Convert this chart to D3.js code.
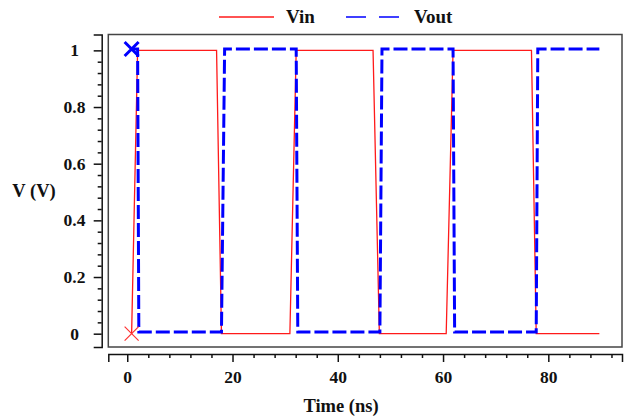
<!DOCTYPE html>
<html>
<head>
<meta charset="utf-8">
<script src="https://cdn.jsdelivr.net/npm/d3@7"></script>
<style>
  html, body { margin: 0; padding: 0; background: #fff; }
  svg { display: block; }
  text { font-family: "Liberation Serif", "Times New Roman", serif; font-weight: bold; fill: #111; }
</style>
</head>
<body>
<svg id="chart" width="629" height="419"></svg>
<script>
// Transient simulation of an inverter: input pulse train and output response
const vinTime  = [0.83, 1.97, 16.97, 17.9, 30.9, 32.1, 46.7, 47.9, 60.6, 61.9, 76.8, 77.7, 89.7];
const vinVolt  = [0, 1, 1, 0, 0, 1, 1, 0, 0, 1, 1, 0, 0];
const voutTime = [0.83, 1.97, 2.2, 17.9, 18.5, 32.1, 32.4, 48.0, 48.4, 61.9, 62.2, 77.7, 78.0, 89.7];
const voutVolt = [1.005, 1.005, 0.006, 0.006, 1.005, 1.005, 0.006, 0.006, 1.005, 1.005, 0.006, 0.006, 1.005, 1.005];

const seriesNames = ["Vin", "Vout"];
const xTickLabels = [0, 20, 40, 60, 80];
const yTickLabels = [0, 0.2, 0.4, 0.6, 0.8, 1];
const xLabel = "Time (ns)";
const yLabel = "V (V)";

const svg = d3.select("#chart");

// plot frame and scales
const frame = { left: 108.3, right: 622, top: 34.5, bottom: 347 };
const x = d3.scaleLinear().domain([-3.6, 94]).range([frame.left, frame.right]);
const y = d3.scaleLinear().domain([-0.047, 1.056]).range([frame.bottom, frame.top]);

svg.append("rect")
  .attr("x", frame.left).attr("y", frame.top)
  .attr("width", frame.right - frame.left).attr("height", frame.bottom - frame.top)
  .attr("fill", "none").attr("stroke", "#444").attr("stroke-width", 1.5);

// detached axes
const xAxisY = 354;
const yAxisX = 101.7;

const xMinor = d3.range(0, 95, 4).filter(v => v % 20 !== 0);
const gx = svg.append("g").attr("transform", `translate(0,${xAxisY})`);
gx.call(d3.axisBottom(x).tickValues(xMinor).tickSize(4).tickSizeOuter(8).tickFormat(""));
gx.append("g").call(d3.axisBottom(x).tickValues(xTickLabels).tickSize(8).tickSizeOuter(0).tickPadding(9));
gx.selectAll("path, line").attr("stroke", "#111").attr("stroke-width", 1.5);
gx.selectAll("text").style("font-size", "17.5px").attr("fill", "#111");

const yMinor = d3.range(0, 1.01, 0.04).filter(v => Math.abs(v * 5 - Math.round(v * 5)) > 1e-6);
const gy = svg.append("g").attr("transform", `translate(${yAxisX},0)`);
gy.call(d3.axisLeft(y).tickValues(yMinor).tickSize(4).tickSizeOuter(8).tickFormat(""));
gy.append("g").call(d3.axisLeft(y).tickValues(yTickLabels).tickSize(8).tickSizeOuter(0).tickFormat(d3.format("~g")));
gy.selectAll("path, line").attr("stroke", "#111").attr("stroke-width", 1.5);
gy.selectAll("text").style("font-size", "17.5px").attr("fill", "#111")
  .attr("text-anchor", "middle").attr("x", -27.2);
gx.selectAll("g > g .domain").remove();
gy.selectAll("g > g .domain").remove();

// axis titles
svg.append("text").attr("x", 341).attr("y", 412).attr("text-anchor", "middle")
  .style("font-size", "18.5px").text(xLabel);
svg.append("text").attr("x", 34).attr("y", 197).attr("text-anchor", "middle")
  .style("font-size", "18.5px").text(yLabel);

// waveforms
const line = d3.line().x(d => x(d[0])).y(d => y(d[1]));
const vin = d3.zip(vinTime, vinVolt);
const vout = d3.zip(voutTime, voutVolt);

svg.append("path").datum(vin).attr("d", line)
  .attr("fill", "none").attr("stroke", "#ff1a1a").attr("stroke-width", 1.3);
svg.append("path").datum(vout).attr("d", line)
  .attr("fill", "none").attr("stroke", "#0000ff").attr("stroke-width", 3)
  .attr("stroke-dasharray", "14,4");

// start markers
function cross(px, py, r, color, w) {
  svg.append("path")
    .attr("d", `M${px - r},${py - r}L${px + r},${py + r}M${px - r},${py + r}L${px + r},${py - r}`)
    .attr("stroke", color).attr("stroke-width", w).attr("fill", "none");
}
cross(x(vinTime[0]), y(vinVolt[0]), 7, "#ff3333", 1.2);
cross(x(voutTime[0]), y(voutVolt[0]), 7, "#0000ff", 3);

// legend
const legend = svg.append("g");
legend.append("line").attr("x1", 219).attr("x2", 274).attr("y1", 17).attr("y2", 17)
  .attr("stroke", "#ff1a1a").attr("stroke-width", 1.3);
legend.append("text").attr("x", 286).attr("y", 23).style("font-size", "19px").text(seriesNames[0]);
legend.append("line").attr("x1", 346).attr("x2", 403).attr("y1", 17).attr("y2", 17)
  .attr("stroke", "#0000ff").attr("stroke-width", 1.5).attr("stroke-dasharray", "20,13");
legend.append("text").attr("x", 414).attr("y", 23).style("font-size", "19px").text(seriesNames[1]);
</script>
</body>
</html>
